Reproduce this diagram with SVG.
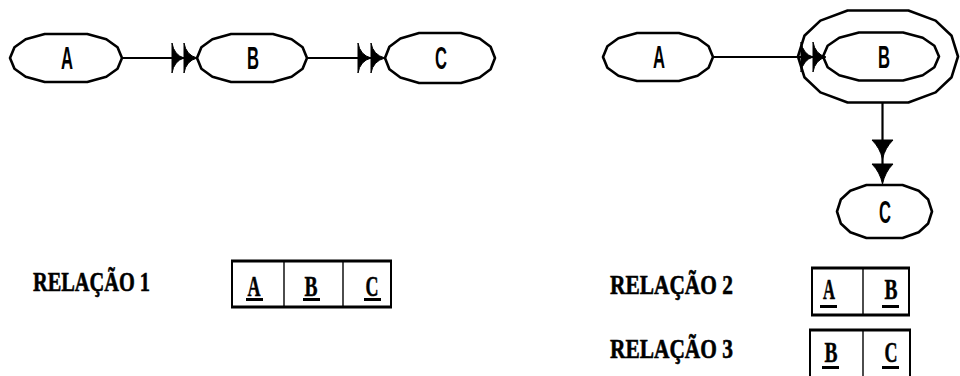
<svg xmlns="http://www.w3.org/2000/svg" xmlns:xlink="http://www.w3.org/1999/xlink" width="960" height="376" viewBox="0 0 960 376">
  <style>
    .shape { fill: none; stroke: #000; stroke-width: 2.6; stroke-linejoin: round; }
    .line { stroke: #000; stroke-width: 2.2; fill: none; }
    .head { fill: #000; stroke: #000; stroke-width: 1; stroke-linejoin: round; }
    .node-label { font-family: "Liberation Sans", Arial, sans-serif; font-weight: bold; font-size: 31px; text-anchor: middle; fill: #000; }
    .rel-label { font-family: "Liberation Serif", "Times New Roman", serif; font-weight: bold; font-size: 28px; fill: #000; stroke: #000; stroke-width: 0.6; }
    .cell { font-family: "Liberation Serif", "Times New Roman", serif; font-weight: bold; font-size: 29px; text-anchor: middle; fill: #000; stroke: #000; stroke-width: 0.5; }
    .box { fill: #fff; stroke: #000; stroke-width: 2; }
    .rule { stroke: #000; stroke-width: 3.2; }
    .divider { stroke: #000; stroke-width: 1.4; }
    .uline { fill: #000; }
  </style>
  <defs>
    <!-- unit oval, scaled per node -->
    <path id="oval" d="M-1 0 L-0.92 -0.45 L-0.72 -0.78 L-0.38 -1 L0.38 -1 L0.72 -0.78 L0.92 -0.45 L1 0 L0.92 0.45 L0.72 0.78 L0.38 1 L-0.38 1 L-0.72 0.78 L-0.92 0.45 Z" vector-effect="non-scaling-stroke"/>
  </defs>
  <rect width="960" height="376" fill="#fff"/>

  <!-- left schema: A ->> B ->> C -->
  <g id="left-A">
    <use xlink:href="#oval" class="shape" transform="translate(66 58) scale(56 24)"/>
    <text class="node-label" x="67" y="69" textLength="12" lengthAdjust="spacingAndGlyphs">A</text>
  </g>
  <g id="left-B">
    <use xlink:href="#oval" class="shape" transform="translate(252 58) scale(55 24)"/>
    <text class="node-label" x="253" y="69" textLength="12" lengthAdjust="spacingAndGlyphs">B</text>
  </g>
  <g id="left-C">
    <use xlink:href="#oval" class="shape" transform="translate(440 58) scale(55 25)"/>
    <text class="node-label" x="441" y="69" textLength="12" lengthAdjust="spacingAndGlyphs">C</text>
  </g>

  <!-- right schema: A ->> {B} -> C -->
  <g id="right-A">
    <use xlink:href="#oval" class="shape" transform="translate(658 57) scale(55 24)"/>
    <text class="node-label" x="659" y="68" textLength="12" lengthAdjust="spacingAndGlyphs">A</text>
  </g>
  <g id="right-B">
    <use xlink:href="#oval" class="shape" transform="translate(878 56.5) scale(80 46)"/>
    <use xlink:href="#oval" class="shape" transform="translate(881 56.5) scale(58 24)"/>
    <text class="node-label" x="884" y="68" textLength="12" lengthAdjust="spacingAndGlyphs">B</text>
  </g>
  <g id="right-C">
    <use xlink:href="#oval" class="shape" transform="translate(884.5 211.5) scale(47.5 26.5)"/>
    <text class="node-label" x="885" y="223" textLength="12" lengthAdjust="spacingAndGlyphs">C</text>
  </g>

  <g id="connectors">
    <!-- A -> B (left) -->
    <line class="line" x1="122" y1="58" x2="185" y2="58"/>
    <path class="head" d="M172 43 Q174 55 184 58 Q174 61 172 73 Z"/>
    <path class="head" d="M184 43 Q186 55 197 58 Q186 61 184 73 Z"/>
    <!-- B -> C (left) -->
    <line class="line" x1="307" y1="58" x2="372" y2="58"/>
    <path class="head" d="M358 43 Q360 55 371 58 Q360 61 358 73 Z"/>
    <path class="head" d="M371 43 Q373 55 385 58 Q373 61 371 73 Z"/>
    <!-- A -> B (right) -->
    <line class="line" x1="713" y1="57" x2="815" y2="57"/>
    <path class="head" d="M801 42 Q803 54 813 57 Q803 60 801 72 Z"/>
    <path class="head" d="M813 42 Q815 54 826 57 Q815 60 813 72 Z"/>
    <!-- B -> C (right, vertical) -->
    <line class="line" x1="882.5" y1="103" x2="882.5" y2="165"/>
    <path class="head" d="M872 140 L893 140 Q885 148 882.5 159 Q880 148 872 140 Z"/>
    <path class="head" d="M872 164 L893 164 Q885 172 882.5 184 Q880 172 872 164 Z"/>
  </g>

  <!-- relation 1 -->
  <g id="relation-1">
    <text class="rel-label" x="33" y="291" textLength="117" lengthAdjust="spacingAndGlyphs">RELAÇÃO 1</text>
    <rect class="box" x="232" y="261" width="159" height="46"/>
    <line class="rule" x1="231" y1="261" x2="392" y2="261"/>
    <line class="rule" x1="231" y1="307" x2="392" y2="307"/>
    <line class="divider" x1="284" y1="261" x2="284" y2="307"/>
    <line class="divider" x1="343" y1="261" x2="343" y2="307"/>
    <text class="cell" x="254" y="296" textLength="13" lengthAdjust="spacingAndGlyphs">A</text>
    <rect class="uline" x="246" y="298" width="17" height="3"/>
    <text class="cell" x="311" y="296" textLength="13" lengthAdjust="spacingAndGlyphs">B</text>
    <rect class="uline" x="303" y="298" width="17" height="3"/>
    <text class="cell" x="372" y="296" textLength="13" lengthAdjust="spacingAndGlyphs">C</text>
    <rect class="uline" x="364" y="298" width="17" height="3"/>
  </g>

  <!-- relation 2 -->
  <g id="relation-2">
    <text class="rel-label" x="610" y="294" textLength="123" lengthAdjust="spacingAndGlyphs">RELAÇÃO 2</text>
    <rect class="box" x="812" y="268" width="97" height="47"/>
    <line class="rule" x1="811" y1="268" x2="910" y2="268"/>
    <line class="rule" x1="811" y1="315" x2="910" y2="315"/>
    <line class="divider" x1="863" y1="268" x2="863" y2="315"/>
    <text class="cell" x="829" y="299" textLength="12" lengthAdjust="spacingAndGlyphs">A</text>
    <rect class="uline" x="820" y="305" width="17" height="3"/>
    <text class="cell" x="891" y="299" textLength="13" lengthAdjust="spacingAndGlyphs">B</text>
    <rect class="uline" x="882" y="305" width="17" height="3"/>
  </g>

  <!-- relation 3 -->
  <g id="relation-3">
    <text class="rel-label" x="610" y="358" textLength="123" lengthAdjust="spacingAndGlyphs">RELAÇÃO 3</text>
    <rect class="box" x="810" y="330" width="100" height="48"/>
    <line class="rule" x1="809" y1="330" x2="911" y2="330"/>
    <line class="divider" x1="863" y1="330" x2="863" y2="378"/>
    <text class="cell" x="831" y="362" textLength="13" lengthAdjust="spacingAndGlyphs">B</text>
    <rect class="uline" x="822" y="366" width="17" height="3"/>
    <text class="cell" x="891" y="362" textLength="13" lengthAdjust="spacingAndGlyphs">C</text>
    <rect class="uline" x="882" y="366" width="17" height="3"/>
  </g>
</svg>
